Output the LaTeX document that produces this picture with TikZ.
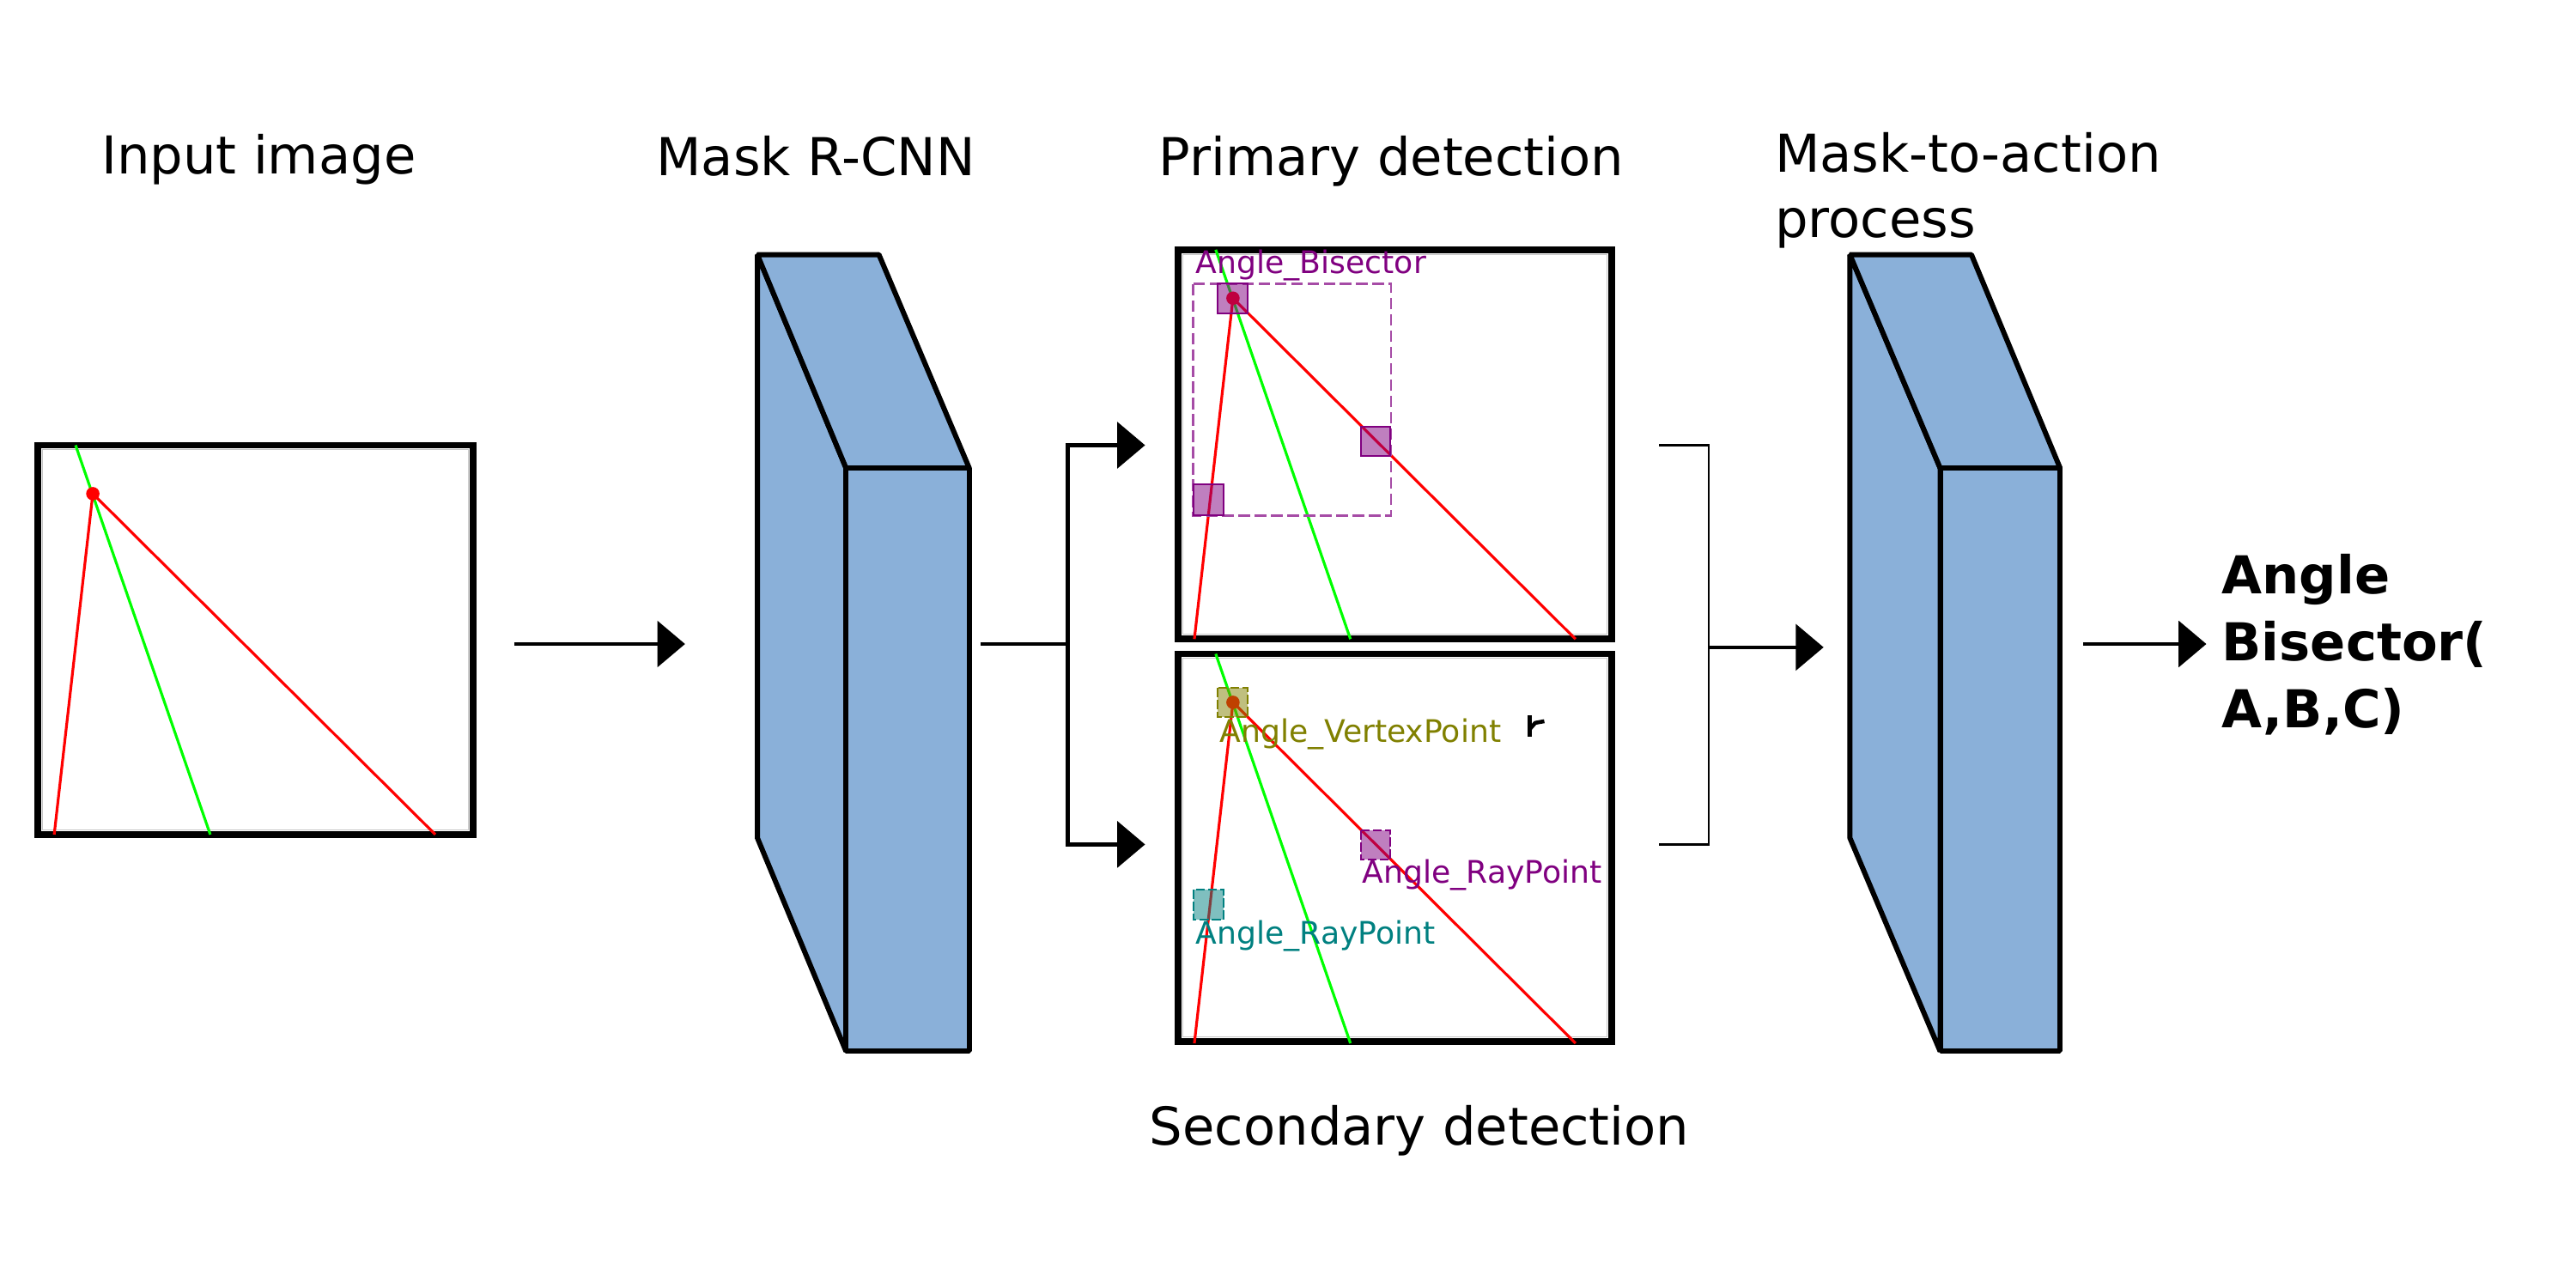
\documentclass[tikz,border=0pt]{standalone}
\usepackage{fontspec}
\setmainfont{DejaVu Sans}
\usetikzlibrary{arrows.meta}
\definecolor{blockblue}{RGB}{138,176,217}
\definecolor{dpurple}{RGB}{128,0,128}
\definecolor{dolive}{RGB}{128,128,0}
\definecolor{dteal}{RGB}{0,128,128}
\definecolor{lime}{RGB}{0,255,0}
\newcommand\geomlines{%
  \draw[greenl] (23,0) -- (105,237);
  \draw[redl] (33.5,29.5) -- (10,237);
  \draw[redl] (33.5,29.5) -- (242,237);
  \fill[red] (33.5,29.5) circle[radius=0.078cm];
}
\begin{document}
\begin{tikzpicture}[x=0.019133cm, y=-0.019133cm,
  frame/.style={draw=black, line width=2.2pt, inner sep=0pt, minimum width=5.051cm, minimum height=4.535cm},
  innerrim/.style={draw=gray!45, line width=0.3pt},
  redl/.style={draw=red, line width=0.9pt},
  greenl/.style={draw=lime, line width=0.9pt},
  conn/.style={line width=1.3pt},
  arr/.style={conn, -{Triangle[length=9.2pt,width=15.2pt]}},
  thinconn/.style={line width=0.7pt},
  block/.style={fill=blockblue, draw=black, line width=1.7pt, line join=bevel},
  title/.style={font=\fontsize{17.3pt}{21.6pt}\selectfont, inner sep=0pt},
  result/.style={font=\fontsize{17.3pt}{22.2pt}\selectfont\bfseries, inner sep=0pt, align=left},
  det/.style={font=\fontsize{10.3pt}{12pt}\selectfont, inner sep=0pt},
  sqbox/.style={fill opacity=0.5},
  sqedge/.style={line width=0.6pt},
  bbox/.style={draw=dpurple!70, line width=0.75pt, dash pattern=on 3.8pt off 1.6pt}
]
\useasboundingbox (0,0) rectangle (1568,784);

% ---------- titles ----------
\node[title, anchor=base] (tin) at (157.5,106) {Input image};
\node[title, anchor=base] (trcnn) at (496.5,107) {Mask R-CNN};
\node[title, anchor=base] (tprim) at (847,107) {Primary detection};
\node[title, anchor=base] (tsec) at (864,697) {Secondary detection};
\node[title, anchor=base west] (tmta) at (1080,105) {Mask-to-action};
\node[title, anchor=base west] (tmta2) at (1080,144.5) {process};

% ---------- input image ----------
\node[frame, minimum width=5.070cm] (inp) at (155.5,389.5) {};
\begin{scope}[shift={(23,271)}]
  \draw[innerrim] (2.8,2.8) rectangle (262.2,234.2);
  \geomlines
\end{scope}

% ---------- Mask R-CNN block ----------
\draw[block] (461,155) -- (515,285) -- (515,640) -- (461,510) -- cycle;
\draw[block] (461,155) -- (535,155) -- (590,285) -- (515,285) -- cycle;
\node[block, inner sep=0pt, minimum width=1.435cm, minimum height=6.792cm] (rcnn) at (552.5,462.5) {};

% ---------- primary detection ----------
\node[frame] (prim) at (849,270.5) {};
\begin{scope}[shift={(717,152)}]
  \draw[innerrim] (2.8,2.8) rectangle (261.2,234.2);
  \geomlines
  \draw[bbox] (9.3,20.8) rectangle (129.7,161.8);
  \fill[sqbox, fill=dpurple] (24.2,20.6) rectangle (42.4,38.6);
  \fill[sqbox, fill=dpurple] (111.3,107.6) rectangle (129.3,125.5);
  \fill[sqbox, fill=dpurple] (9.5,143) rectangle (27.7,161.8);
  \draw[dpurple, sqedge] (24.2,20.6) rectangle (42.4,38.6);
  \draw[dpurple, sqedge] (111.3,107.6) rectangle (129.3,125.5);
  \draw[dpurple, sqedge] (9.5,143) rectangle (27.7,161.8);
  \node[det, text=dpurple, anchor=base west] (lbis) at (10.5,14.7) {Angle\_Bisector};
\end{scope}

% ---------- secondary detection ----------
\node[frame, minimum height=4.515cm] (sec) at (849,516) {};
\begin{scope}[shift={(717,398)}]
  \draw[innerrim] (2.8,2.8) rectangle (261.2,233.2);
  \geomlines
  \fill[sqbox, fill=dolive] (24.2,20.8) rectangle (42.4,38.6);
  \fill[sqbox, fill=dpurple] (111.3,107.6) rectangle (129.3,125.4);
  \fill[sqbox, fill=dteal] (9.3,143.6) rectangle (27.7,161.8);
  \draw[dolive, sqedge, dash pattern=on 3pt off 1pt] (24.2,20.8) rectangle (42.4,38.6);
  \draw[dpurple, sqedge, dash pattern=on 3pt off 1pt] (111.3,107.6) rectangle (129.3,125.4);
  \draw[dteal, sqedge, dash pattern=on 3pt off 1pt] (9.3,143.6) rectangle (27.7,161.8);
  \node[det, text=dolive, anchor=base west] (lvert) at (25.3,53.6) {Angle\_VertexPoint};
  \node[det, text=dpurple, anchor=base west] (lray1) at (111.9,139.8) {Angle\_RayPoint};
  \node[det, text=dteal, anchor=base west] (lray2) at (10.5,176.5) {Angle\_RayPoint};
  \draw[line width=1.5pt, line cap=butt] (214,37.5) -- (214,50.5);
  \draw[line width=1.3pt] (214,46) -- (217.5,42) -- (223,41);
\end{scope}

% ---------- Mask-to-action block ----------
\draw[block] (1126,155) -- (1181,285) -- (1181,640) -- (1126,510) -- cycle;
\draw[block] (1126,155) -- (1200,155) -- (1254,285) -- (1181,285) -- cycle;
\node[block, inner sep=0pt, minimum width=1.397cm, minimum height=6.792cm] (mta) at (1217.5,462.5) {};

% ---------- result ----------
\node[result, anchor=base west] (res) at (1352,443) {Angle\\Bisector(\\A,B,C)};

% ---------- connectors ----------
\coordinate (a1s) at (313,392);
\coordinate (a1e) at (417,392);
\draw[arr] (a1s) -- (a1e);

\coordinate (b0) at (597,392);
\coordinate (bj) at (650,392);
\coordinate (bt) at (650,271);
\coordinate (bb) at (650,514);
\coordinate (bte) at (697,271);
\coordinate (bbe) at (697,514);
\draw[conn] (b0) -- (bj);
\draw[conn, line cap=rect] (bt) -- (bb);
\draw[arr] (bt) -- (bte);
\draw[arr] (bb) -- (bbe);

\coordinate (c1) at (1010,271);
\coordinate (c2) at (1040,271);
\coordinate (c3) at (1040,514);
\coordinate (c4) at (1010,514);
\coordinate (cm) at (1040,394);
\coordinate (ce) at (1110,394);
\draw[thinconn] (c1) -- (c2) -- (c3) -- (c4);
\draw[arr] (cm) -- (ce);

\coordinate (d1) at (1268,392);
\coordinate (d2) at (1343,392);
\draw[arr] (d1) -- (d2);
\end{tikzpicture}
\end{document}
